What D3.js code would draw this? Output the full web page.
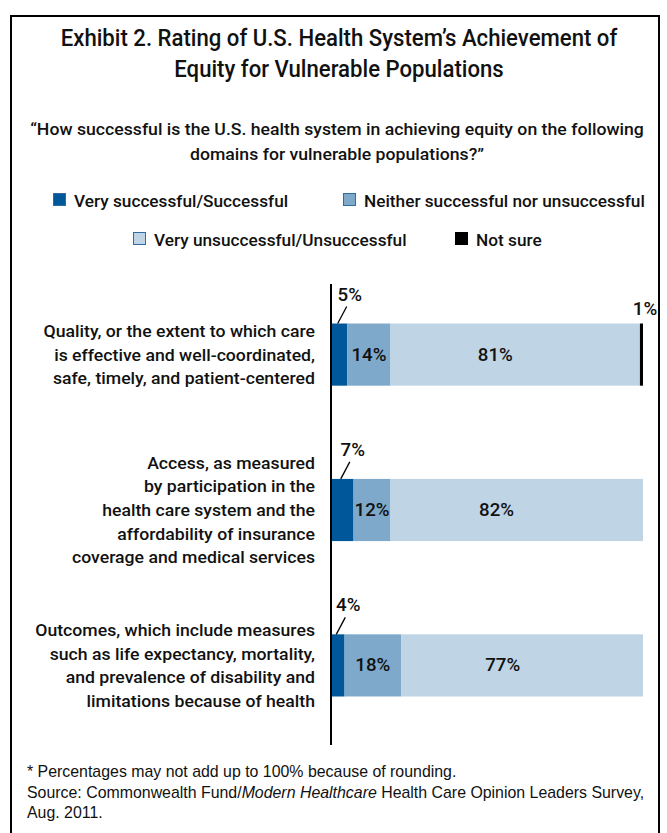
<!DOCTYPE html>
<html>
<head>
<meta charset="utf-8">
<script src="https://cdn.jsdelivr.net/npm/d3@7"></script>
<style>
  html, body { margin: 0; padding: 0; background: #fff; }
  svg { display: block; }
  .cond { font-family: Roboto, "Noto Sans", sans-serif; font-weight: 500; fill: #111; }
</style>
</head>
<body>
<svg id="chart" width="667" height="833"></svg>
<script>
// Survey domains (one bar each), with wrapped label lines
const domains = ["Quality", "Access", "Outcomes"];
const domainLabels = [
  ["Quality, or the extent to which care", "is effective and well-coordinated,", "safe, timely, and patient-centered"],
  ["Access, as measured", "by participation in the", "health care system and the", "affordability of insurance", "coverage and medical services"],
  ["Outcomes, which include measures", "such as life expectancy, mortality,", "and prevalence of disability and", "limitations because of health"]
];

// Response categories and shares (%)
const responses = ["Very successful/Successful", "Neither successful nor unsuccessful", "Very unsuccessful/Unsuccessful", "Not sure"];
const verySuccessful = [5, 7, 4];
const neither = [14, 12, 18];
const veryUnsuccessful = [81, 82, 77];
const notSure = [1, 0, 0];

const colors = ["#00579a", "#7ea9ca", "#bfd4e5", "#000000"];

const rows = domains.map((d, i) => ({
  domain: d,
  [responses[0]]: verySuccessful[i],
  [responses[1]]: neither[i],
  [responses[2]]: veryUnsuccessful[i],
  [responses[3]]: notSure[i]
}));

const svg = d3.select("#chart");

// Condensed text: a group squeezed horizontally by sx (or, when a width is
// given, by whatever factor makes the sample line fill that width).
function squeeze(parent, x, y, anchor, size, lines, lineHeight, sx, sampleIndex, width) {
  const g = parent.append("g").attr("class", "cond");
  const t = g.append("text").attr("text-anchor", anchor).attr("font-size", size);
  const spans = lines.map((ln, j) =>
    t.append("tspan").attr("x", 0).attr("y", j * lineHeight).text(ln));
  if (width) {
    const w = spans[sampleIndex].node().getComputedTextLength();
    if (w > 0) sx = width / w;
  }
  g.attr("transform", `translate(${x},${y}) scale(${sx},1)`);
  return sx;
}

// Frame
svg.append("rect")
  .attr("x", 11).attr("y", 16).attr("width", 648).attr("height", 840)
  .attr("fill", "none").attr("stroke", "#000").attr("stroke-width", 2);

// Title
squeeze(svg, 339, 46, "middle", 24,
  ["Exhibit 2. Rating of U.S. Health System’s Achievement of", "Equity for Vulnerable Populations"], 31, 0.84, 0, 557);

// Question
const sxLabel = squeeze(svg, 337, 135, "middle", 17,
  ["“How successful is the U.S. health system in achieving equity on the following", "domains for vulnerable populations?”"], 25, 0.84, 0, 614);

// Legend
const legendPos = [[53, 201], [343, 201], [133, 240], [455, 240]];
responses.forEach((r, i) => {
  const [lx, ly] = legendPos[i];
  svg.append("rect")
    .attr("x", lx + 0.5).attr("y", ly - 7.5).attr("width", 12).attr("height", 12)
    .attr("fill", colors[i]).attr("stroke", i === 3 ? "#000" : "#2f6c9f").attr("stroke-width", 1);
  squeeze(svg, lx + 21, ly + 6, "start", 16.6, [r], 0, sxLabel);
});

// Scales
const x = d3.scaleLinear().domain([0, 1]).range([332, 643]);
const y = d3.scaleBand().domain(domains).range([280, 740]).paddingInner(0.6).paddingOuter(0.28);

const stack = d3.stack().keys(responses).offset(d3.stackOffsetExpand);
const series = stack(rows);

const bars = svg.append("g");
series.forEach((s, si) => {
  bars.selectAll(null).data(s).join("rect")
    .attr("x", d => x(d[0]))
    .attr("y", d => y(d.data.domain))
    .attr("width", d => Math.max(0, x(d[1]) - x(d[0])))
    .attr("height", y.bandwidth())
    .attr("fill", colors[si]);
});

// Axis line
svg.append("line")
  .attr("x1", 331).attr("x2", 331).attr("y1", 284).attr("y2", 745)
  .attr("stroke", "#000").attr("stroke-width", 2);

// Category labels, right-aligned against the axis
domainLabels.forEach((lines, i) => {
  const cy = y(domains[i]) + y.bandwidth() / 2;
  const lh = 23.6;
  const top = cy - (lines.length - 1) / 2 * lh + 6;
  squeeze(svg, 315, top, "end", 17, lines, lh, sxLabel);
});

// Value labels
function valueLabel(xp, yp, txt) {
  squeeze(svg, xp, yp, "middle", 18, [txt], 0, sxLabel);
}
// Inside labels: middle segment centred, large segment a little left of centre
series[1].forEach(d => {
  valueLabel((x(d[0]) + x(d[1])) / 2, y(d.data.domain) + y.bandwidth() / 2 + 6,
    neither[domains.indexOf(d.data.domain)] + "%");
});
series[2].forEach(d => {
  valueLabel(x(d[0] + (d[1] - d[0]) * 0.42), y(d.data.domain) + y.bandwidth() / 2 + 6,
    veryUnsuccessful[domains.indexOf(d.data.domain)] + "%");
});
// Outside labels with leaders for the small first segment
series[0].forEach(d => {
  const top = y(d.data.domain);
  const x0 = x(d[0] + (d[1] - d[0]) * 0.5) - 2;
  svg.append("line")
    .attr("x1", x0).attr("y1", top)
    .attr("x2", x0 + 9).attr("y2", top - 17)
    .attr("stroke", "#000").attr("stroke-width", 1.3);
  valueLabel(x0 + 12, top - 23, verySuccessful[domains.indexOf(d.data.domain)] + "%");
});
// "Not sure" label above its thin segment
series[3].forEach(d => {
  const v = notSure[domains.indexOf(d.data.domain)];
  if (!v) return;
  valueLabel(x(d[1]) + 2, y(d.data.domain) - 9, v + "%");
});

// Footnotes
const foot = svg.append("text")
  .attr("font-family", "'Liberation Sans', Arial, sans-serif").attr("font-size", 15.9).attr("fill", "#111");
foot.append("tspan").attr("x", 27).attr("y", 777).text("* Percentages may not add up to 100% because of rounding.");
const src = foot.append("tspan").attr("x", 27).attr("y", 798);
src.append("tspan").text("Source: Commonwealth Fund/");
src.append("tspan").attr("font-style", "italic").text("Modern Healthcare");
src.append("tspan").text(" Health Care Opinion Leaders Survey,");
foot.append("tspan").attr("x", 27).attr("y", 818).text("Aug. 2011.");
</script>
</body>
</html>
